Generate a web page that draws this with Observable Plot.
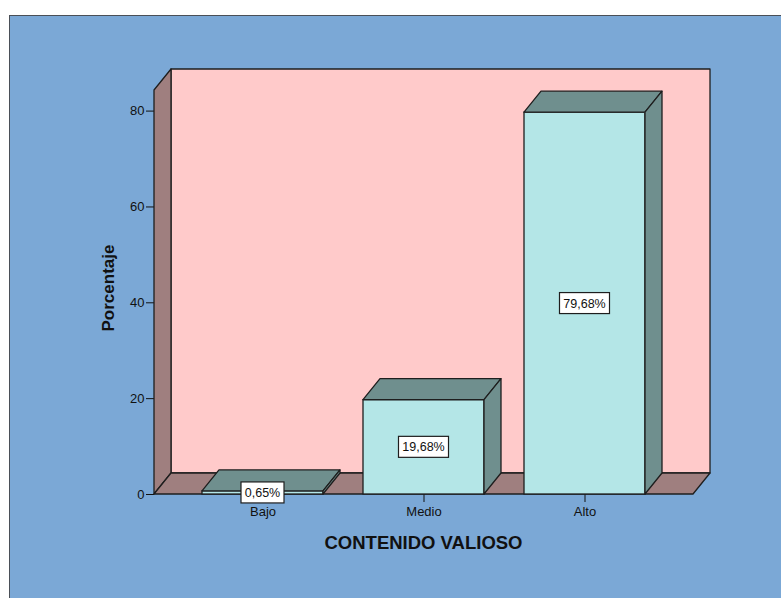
<!DOCTYPE html>
<html>
<head>
<meta charset="utf-8">
<script src="https://cdn.jsdelivr.net/npm/d3@7"></script>
<script src="https://cdn.jsdelivr.net/npm/@observablehq/plot@0.6"></script>
<style>
  html, body { margin: 0; padding: 0; background: #ffffff; }
  #wrap { position: relative; width: 781px; height: 598px; overflow: hidden; }
  #panel {
    position: absolute; left: 9px; top: 15px; right: 0; bottom: 0;
    background: #7ba8d6; border-left: 1px solid #4a4f57; border-top: 1px solid #4a4f57;
  }
  #chart { position: absolute; left: 0; top: 0; }
  #chart svg g[aria-label*="axis"],
  #chart svg g[aria-label*="axis"] text { font-size: 13px; }
</style>
</head>
<body>
<div id="wrap">
  <div id="panel"></div>
  <div id="chart"></div>
</div>
<script>
// Categories, percentages and the value labels printed on the bars
const categories = ["Bajo", "Medio", "Alto"];
const percentages = [0.65, 19.68, 79.68];
const valueLabels = ["0,65%", "19,68%", "79,68%"];
const yTicks = [0, 20, 40, 60, 80];
const yMax = 84.3;
const xTitle = "CONTENIDO VALIOSO";
const yTitle = "Porcentaje";

const rows = categories.map((category, i) => ({
  category, value: percentages[i], label: valueLabels[i]
}));

// Pseudo-3D depth of the box and of every bar (pixels)
const DEPTH_X = 17, DEPTH_Y = -21;
const FONT = "'Liberation Sans', Arial, Helvetica, sans-serif";
const C = {
  wall: "#ffcaca",
  side: "#9f7f7f",
  barFront: "#b4e6e7",
  barShade: "#6f8f8e",
  stroke: "#1e1e1e",
  text: "#111111"
};

const NS = "http://www.w3.org/2000/svg";
function el(name, attrs = {}) {
  const node = document.createElementNS(NS, name);
  for (const [k, v] of Object.entries(attrs)) node.setAttribute(k, v);
  return node;
}
function poly(points, fill) {
  return el("polygon", {
    points: points.map(p => p.join(",")).join(" "),
    fill, stroke: C.stroke, "stroke-width": 1.3, "stroke-linejoin": "round"
  });
}
function pickScales(args) {
  return args.find(a => a && typeof a.x === "function" && typeof a.y === "function");
}
function pickDims(args) {
  return args.find(a => a && typeof a.width === "number" && "marginLeft" in a);
}
function bandwidth(x) {
  if (typeof x.bandwidth === "function") return x.bandwidth();
  return x.bandwidth;
}

// Back wall, left wall and floor of the chart box
function boxWalls(...args) {
  const s = pickScales(args), d = pickDims(args);
  const x0 = d.marginLeft, x1 = d.width - d.marginRight;
  const yb = s.y(0), yt = s.y(yMax);
  const g = el("g");
  g.append(poly([[x0 + DEPTH_X, yb + DEPTH_Y], [x1 + DEPTH_X, yb + DEPTH_Y],
                 [x1 + DEPTH_X, yt + DEPTH_Y], [x0 + DEPTH_X, yt + DEPTH_Y]], C.wall));
  g.append(poly([[x0, yb], [x0 + DEPTH_X, yb + DEPTH_Y],
                 [x0 + DEPTH_X, yt + DEPTH_Y], [x0, yt]], C.side));
  g.append(poly([[x0, yb], [x0 + DEPTH_X, yb + DEPTH_Y],
                 [x1 + DEPTH_X, yb + DEPTH_Y], [x1, yb]], C.side));
  return g;
}

// Top and right-hand faces of each bar
function barShades(...args) {
  const s = pickScales(args);
  const bw = bandwidth(s.x);
  const y0 = s.y(0);
  const g = el("g");
  for (const r of rows) {
    const bx = s.x(r.category), yt = s.y(r.value);
    g.append(poly([[bx, yt], [bx + DEPTH_X, yt + DEPTH_Y],
                   [bx + bw + DEPTH_X, yt + DEPTH_Y], [bx + bw, yt]], C.barShade));
    g.append(poly([[bx + bw, yt], [bx + bw + DEPTH_X, yt + DEPTH_Y],
                   [bx + bw + DEPTH_X, y0 + DEPTH_Y], [bx + bw, y0]], C.barShade));
  }
  return g;
}

// Boxed value labels in the middle of each bar
const measureCtx = document.createElement("canvas").getContext("2d");
function valueBoxes(...args) {
  const s = pickScales(args);
  const bw = bandwidth(s.x);
  measureCtx.font = `12.5px ${FONT}`;
  const g = el("g");
  for (const r of rows) {
    const cx = s.x(r.category) + bw / 2, cy = s.y(r.value / 2);
    const w = Math.round(measureCtx.measureText(r.label).width) + 8, h = 21;
    g.append(el("rect", {
      x: cx - w / 2, y: cy - h / 2, width: w, height: h,
      fill: "#ffffff", stroke: C.stroke, "stroke-width": 1.2
    }));
    const t = el("text", {
      x: cx, y: cy, dy: "0.36em", "text-anchor": "middle",
      "font-family": FONT, "font-size": 12.5, fill: C.text
    });
    t.textContent = r.label;
    g.append(t);
  }
  return g;
}

// Axis titles
function axisTitles(...args) {
  const d = pickDims(args);
  const g = el("g", {"font-family": FONT, "font-weight": "bold", fill: C.text});
  const xc = d.marginLeft + (d.width - d.marginLeft - d.marginRight) / 2;
  const tx = el("text", {x: xc, y: 549, "text-anchor": "middle", "font-size": 18.5});
  tx.textContent = xTitle;
  const yc = d.marginTop + (d.height - d.marginTop - d.marginBottom) / 2 - 4;
  const ty = el("text", {
    transform: `translate(${d.marginLeft - 40},${yc}) rotate(-90)`,
    "text-anchor": "middle", "font-size": 17
  });
  ty.textContent = yTitle;
  g.append(tx, ty);
  return g;
}

const chart = Plot.plot({
  width: 781,
  height: 598,
  marginLeft: 154,
  marginRight: 88,
  marginTop: 90,
  marginBottom: 104,
  style: {background: "none", fontFamily: FONT, fontSize: "13px", color: C.text, overflow: "visible"},
  x: {domain: categories, paddingInner: 0.25, paddingOuter: 0.29, label: null, tickSize: 8, tickPadding: 4},
  y: {domain: [0, yMax], ticks: yTicks, label: null, tickSize: 8, tickPadding: 2},
  marks: [
    boxWalls,
    Plot.barY(rows, {x: "category", y: "value", fill: C.barFront, stroke: C.stroke, strokeWidth: 1.3}),
    barShades,
    valueBoxes,
    axisTitles
  ]
});
document.getElementById("chart").append(chart);
</script>
</body>
</html>
